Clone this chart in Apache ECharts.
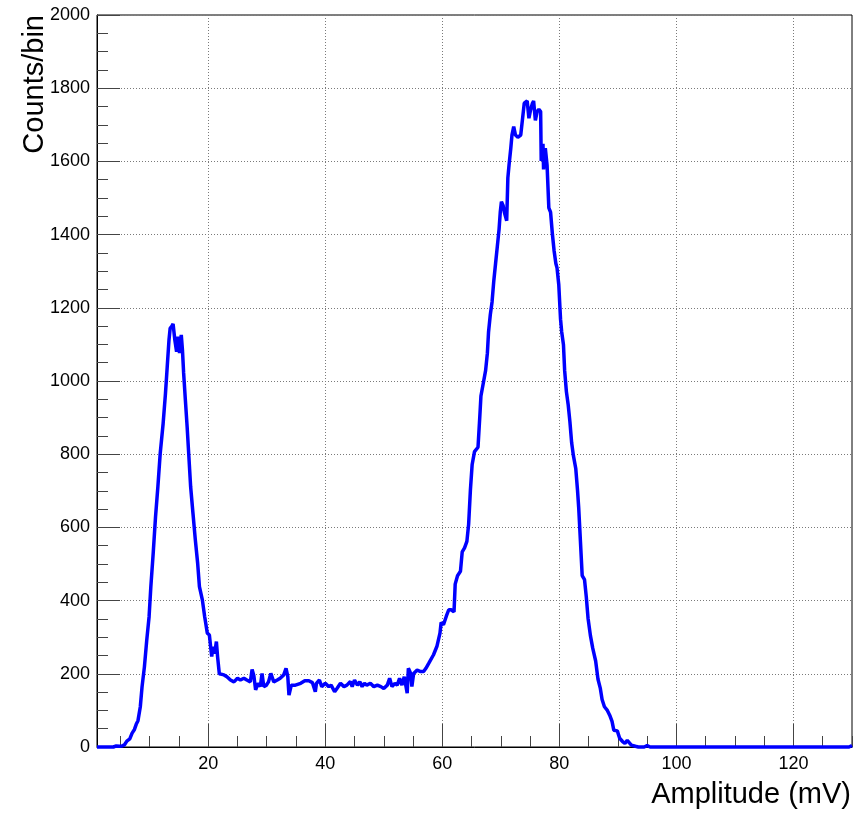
<!DOCTYPE html>
<html><head><meta charset="utf-8">
<script src="https://cdn.jsdelivr.net/npm/echarts@6/dist/echarts.min.js"></script>
<style>html,body{margin:0;padding:0;background:#fff}#c{width:858px;height:815px}</style>
</head><body><div id="c"></div>
<script>
const amplitude = [
1.0,2.0,3.0,3.8,4.3,4.6,4.9,5.3,5.7,6.1,6.6,7.0,7.4,7.7,8.0,8.4,8.7,9.1,9.5,9.9,
10.2,10.6,11.0,11.4,11.8,12.3,12.7,13.0,13.3,13.5,13.8,14.0,14.3,14.6,14.85,15.1,15.4,15.6,15.8,16.1,
16.4,16.7,17.0,17.4,17.8,18.2,18.5,19.0,19.4,19.85,20.2,20.6,20.8,21.1,21.4,21.6,21.9,22.1,22.7,23.2,
23.8,24.4,25.0,25.5,26.1,26.6,27.2,27.5,27.8,28.1,28.5,28.9,29.2,29.5,29.9,30.3,30.7,31.2,31.8,32.3,
32.9,33.3,33.6,33.8,34.2,34.9,35.8,36.5,37.2,37.8,38.3,38.5,39.0,39.4,40.0,40.6,41.0,41.6,42.0,42.6,
43.2,43.7,44.3,44.6,45.0,45.5,45.9,46.3,46.7,47.1,47.7,48.3,48.9,49.5,50.0,50.6,51.0,51.4,51.9,52.3,
52.7,53.1,53.5,54.0,54.2,54.6,54.8,55.1,55.7,56.3,56.8,57.2,57.7,58.5,59.1,59.6,59.8,60.2,60.7,61.1,
61.5,62.0,62.2,62.6,63.1,63.4,63.8,64.2,64.5,64.8,65.1,65.5,66.1,66.4,66.6,67.0,67.4,67.7,67.9,68.2,
68.5,68.8,69.1,69.4,69.7,69.9,70.1,70.4,70.6,71.0,71.2,71.4,71.7,71.9,72.2,72.5,72.9,73.4,73.8,74.0,
74.5,74.8,75.1,75.4,75.6,75.9,76.2,76.5,76.8,76.9,77.2,77.3,77.6,77.9,78.2,78.5,78.8,79.1,79.4,79.6,
79.9,80.2,80.4,80.7,80.9,81.2,81.5,81.8,82.1,82.4,82.8,83.1,83.3,83.6,83.9,84.3,84.6,84.9,85.3,85.7,
86.2,86.6,87.0,87.3,87.7,88.2,88.6,89.0,89.3,89.9,90.3,90.8,91.2,91.6,91.9,92.3,93.0,93.5,94.5,95.0,
95.5,97.0,97.3,97.6,98.7,99.0,99.3,103.5,103.8,104.1,105.5,105.8,106.1,107.8,108.1,108.4,113.5,113.8,114.1,118.1,
118.4,118.7,124.3,124.6,124.9,125.6,125.9,126.2,129.5,129.8,130.0
];
const counts = [
0,0,0,0,3,5,2,3,6,16,22,38,48,62,72,110,165,219,292,356,
438,529,629,711,802,884,966,1039,1112,1144,1150,1156,1112,1080,1121,1076,1126,1085,1022,948,
875,793,711,638,566,502,438,402,356,311,306,247,274,255,288,247,200,197,197,192,
183,178,188,183,188,183,178,212,195,156,174,165,201,165,168,178,201,178,183,188,
197,215,192,142,169,169,174,181,181,176,151,174,183,165,174,165,169,151,160,174,
165,169,179,165,183,169,178,165,174,169,174,165,169,165,160,169,188,165,174,169,
188,169,192,147,215,201,165,201,210,206,206,215,229,252,276,311,340,334,358,375,
375,369,445,468,480,533,544,562,609,702,772,807,819,901,959,994,1029,1076,1134,1181,
1216,1274,1321,1368,1415,1461,1490,1479,1461,1438,1555,1590,1636,1672,1695,1672,1666,1672,1730,1759,
1765,1718,1742,1759,1765,1712,1736,1742,1736,1601,1648,1578,1636,1590,1473,1461,1403,1356,1321,1309,
1263,1169,1134,1099,1029,971,936,889,831,796,761,702,655,562,468,457,410,352,305,270,
235,185,160,130,110,100,87,70,46,44,24,15,10,18,15,5,2,0,0,4,
0,0,3,0,0,3,0,0,3,0,0,3,0,0,3,0,0,3,0,0,
3,0,0,3,0,0,3,0,0,4,4
];
const xMajorTicks = [20,40,60,80,100,120];
const xMinorTicks = [5,10,15,25,30,35,45,50,55,65,70,75,85,90,95,105,110,115,125,130];
const xMin = 1, xMax = 130;
const yMin = 0, yMax = 2000, yStep = 200;
const xTitle = 'Amplitude (mV)';
const yTitle = 'Counts/bin';

const FONT = '"Liberation Sans", Arial, Helvetica, sans-serif';
const chart = echarts.init(document.getElementById('c'), null, {renderer: 'canvas'});
const gridLine = {show: true, lineStyle: {color: '#7a7a7a', width: 1, type: [1, 2]}};
chart.setOption({
  animation: false,
  backgroundColor: '#ffffff',
  grid: {left: 97, top: 15, width: 755, height: 732, show: true, borderColor: '#000', borderWidth: 1, backgroundColor: 'transparent'},
  xAxis: [{
    type: 'value', min: xMin, max: xMax, position: 'bottom',
    axisLine: {show: true, onZero: false, lineStyle: {color: '#000', width: 1}},
    axisTick: {show: true, inside: true, length: 23, customValues: xMajorTicks, lineStyle: {color: '#444', width: 1}},
    axisLabel: {customValues: xMajorTicks, color: '#000', fontSize: 18, fontFamily: FONT, margin: 8, formatter: v => String(v)},
    splitLine: gridLine
  }, {
    type: 'value', min: xMin, max: xMax, position: 'bottom',
    axisLine: {show: false},
    axisTick: {show: true, inside: true, length: 11, customValues: xMinorTicks, lineStyle: {color: '#444', width: 1}},
    axisLabel: {show: false},
    splitLine: {show: false}
  }],
  yAxis: {
    type: 'value', min: yMin, max: yMax, interval: yStep,
    axisLine: {show: true, onZero: false, lineStyle: {color: '#000', width: 1}},
    axisTick: {show: true, inside: true, length: 23, lineStyle: {color: '#444', width: 1}},
    minorTick: {show: true, splitNumber: 4, length: 11, lineStyle: {color: '#444', width: 1}},
    axisLabel: {color: '#000', fontSize: 18, fontFamily: FONT, margin: 7, formatter: v => String(v)},
    splitLine: gridLine
  },
  graphic: [
    {type: 'text', x: 851, y: 795, style: {text: xTitle, fill: '#000', font: '29px ' + FONT, textAlign: 'right', textVerticalAlign: 'middle'}},
    {type: 'text', x: 35, y: 15, rotation: Math.PI / 2, style: {text: yTitle, fill: '#000', font: '29px ' + FONT, textAlign: 'right', textVerticalAlign: 'middle'}}
  ],
  series: [{
    type: 'line', xAxisIndex: 0, showSymbol: false, clip: false,
    data: amplitude.map((a, i) => [a, counts[i]]),
    lineStyle: {color: '#0000ff', width: 3.5}, itemStyle: {color: '#0000ff'}, z: 5
  }]
});
</script>
</body></html>
